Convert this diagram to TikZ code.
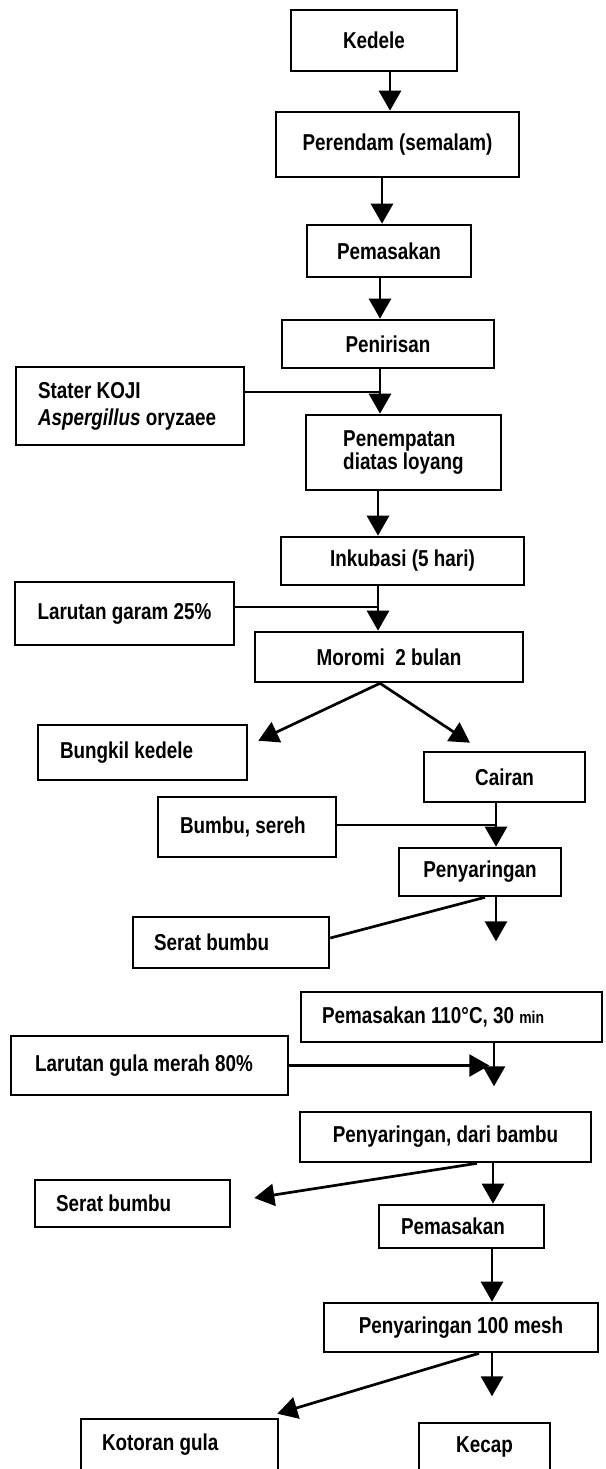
\documentclass[tikz,border=0pt]{standalone}
\usepackage{fontspec}
\setmainfont{Liberation Sans}[FakeStretch=0.82]
\usetikzlibrary{arrows.meta}
\begin{document}
\begin{tikzpicture}[x=1pt,y=-1pt,
  box/.style={draw, line width=2.6pt, inner sep=0pt, font=\fontsize{23}{26}\selectfont\bfseries, align=center},
  lbox/.style={box, align=flush left},
  conn/.style={line width=2.7pt},
  arr/.style={conn, -{Triangle[width=22pt,length=20pt]}}]
\useasboundingbox (0,0) rectangle (605,1469);

\node[box, minimum width=166pt, minimum height=61pt] (kedele) at (374,40.5) {Kedele};
\node[box, minimum width=243pt, minimum height=65pt] (perendam) at (397.5,144.5) {Perendam (semalam)};
\node[box, minimum width=164pt, minimum height=52pt] (pemasakanA) at (389,251) {Pemasakan};
\node[box, minimum width=212pt, minimum height=48pt] (penirisan) at (388,344) {Penirisan};
\node[lbox, minimum height=78pt, text width=184pt, inner xsep=22pt, font=\fontsize{23}{27}\selectfont\bfseries] (stater) at (130,406) {Stater KOJI\\\textit{Aspergillus} oryzaee};
\node[box, minimum width=195pt, minimum height=75pt, align=left, font=\fontsize{23}{23}\selectfont\bfseries] (penempatan) at (403.5,452.5) {Penempatan\\diatas loyang};
\node[box, minimum width=243pt, minimum height=48pt] (inkubasi) at (402.5,561) {Inkubasi (5 hari)};
\node[box, minimum width=219pt, minimum height=63pt] (garam) at (124.5,613.5) {Larutan garam 25\%};
\node[box, minimum width=268pt, minimum height=50pt] (moromi) at (389,657) {Moromi\ \ 2 bulan};
\node[lbox, minimum height=55pt, text width=165pt, inner xsep=22pt] (bungkil) at (142.5,752.5) {Bungkil kedele};
\node[box, minimum width=161pt, minimum height=50pt] (cairan) at (504.5,777) {Cairan};
\node[lbox, minimum height=60pt, text width=134pt, inner xsep=22pt] (bumbu) at (247,827) {Bumbu, sereh};
\node[box, minimum width=162pt, minimum height=48pt] (penyaringanA) at (480,872) {Penyaringan};
\node[lbox, minimum height=51pt, text width=154pt, inner xsep=21pt] (seratA) at (231,942.5) {Serat bumbu};
\node[lbox, minimum height=50pt, text width=259pt, inner xsep=21pt] (pemasakanB) at (451.5,1017) {Pemasakan 110°C, 30 {\fontsize{17}{18}\selectfont min}};
\node[lbox, minimum height=59pt, text width=229pt, inner xsep=24pt] (gula) at (149.5,1065.5) {Larutan gula merah 80\%};
\node[box, minimum width=291pt, minimum height=50pt] (bambu) at (445.5,1137) {Penyaringan, dari bambu};
\node[lbox, minimum height=47pt, text width=153pt, inner xsep=21pt] (seratB) at (132.5,1203.5) {Serat bumbu};
\node[lbox, minimum height=43pt, text width=121pt, inner xsep=22pt] (pemasakanC) at (461.5,1226.5) {Pemasakan};
\node[box, minimum width=274pt, minimum height=49pt] (mesh) at (461,1327.5) {Penyaringan 100 mesh};
\node[lbox, minimum height=51pt, text width=155pt, inner xsep=21pt] (kotoran) at (179.5,1444.5) {Kotoran gula};
\node[box, minimum width=131pt, minimum height=47pt] (kecap) at (484.5,1446.5) {Kecap};

% main chain
\coordinate (k1) at ([xshift=16pt]kedele.south);
\draw[arr] (k1) -- (k1 |- perendam.north);
\coordinate (p1) at ([xshift=-15.5pt]perendam.south);
\draw[arr] (p1) -- (p1 |- pemasakanA.north);
\coordinate (m1) at ([xshift=-9pt]pemasakanA.south);
\draw[arr] (m1) -- (m1 |- penirisan.north);
\coordinate (n1) at ([xshift=-8pt]penirisan.south);
\draw[arr] (n1) -- (n1 |- penempatan.north);
\coordinate (s1) at ([yshift=14pt]stater.east);
\draw[conn] (s1) -- (s1 -| n1);
\coordinate (e1) at ([xshift=-25.5pt]penempatan.south);
\draw[arr] (e1) -- (e1 |- inkubasi.north);
\coordinate (i1) at ([xshift=-24.5pt]inkubasi.south);
\draw[arr] (i1) -- (i1 |- moromi.north);
\coordinate (g1) at ([yshift=6.5pt]garam.east);
\draw[conn] (g1) -- (g1 -| i1);

% split
\coordinate (r1) at ([xshift=-9pt]moromi.south);
\coordinate (bt) at ([xshift=10pt,yshift=-17pt]bungkil.north east);
\coordinate (ct) at ([xshift=-34.5pt,yshift=8pt]cairan.north);
\draw[arr] (r1) -- (bt);
\draw[arr] (r1) -- (ct);

\coordinate (c1) at ([xshift=-8.5pt]cairan.south);
\draw[arr] (c1) -- (c1 |- penyaringanA.north);
\coordinate (b1) at ([yshift=2pt]bumbu.east);
\draw[conn] (b1) -- (b1 -| c1);

\coordinate (y1) at ([xshift=16pt]penyaringanA.south);
\coordinate (y2) at ([yshift=-44pt]y1);
\draw[arr] (y1) -- (y2);
\coordinate (y3) at ([xshift=5pt]penyaringanA.south);
\draw[conn] (y3) -- ([yshift=4.5pt]seratA.east);

\coordinate (q1) at ([xshift=42.5pt]pemasakanB.south);
\coordinate (q2) at ([yshift=-43pt]q1);
\draw[arr] (q1) -- (q2);
\coordinate (u2) at ([xshift=200pt]gula.east);
\draw[arr] (gula.east) -- (u2);

\coordinate (w1) at ([xshift=47.5pt]bambu.south);
\draw[arr] (w1) -- (w1 |- pemasakanC.north);
\coordinate (w2) at ([xshift=31.5pt]bambu.south);
\draw[arr] (w2) -- ([xshift=23pt,yshift=5.5pt]seratB.east);

\coordinate (z1) at ([xshift=30.5pt]pemasakanC.south);
\draw[arr] (z1) -- (z1 |- mesh.north);
\coordinate (h1) at ([xshift=31pt]mesh.south);
\coordinate (h3) at ([yshift=-43pt]h1);
\draw[arr] (h1) -- (h3);
\coordinate (h2) at ([xshift=18pt]mesh.south);
\draw[arr] (h2) -- ([xshift=-2pt,yshift=4pt]kotoran.north east);
\end{tikzpicture}
\end{document}
